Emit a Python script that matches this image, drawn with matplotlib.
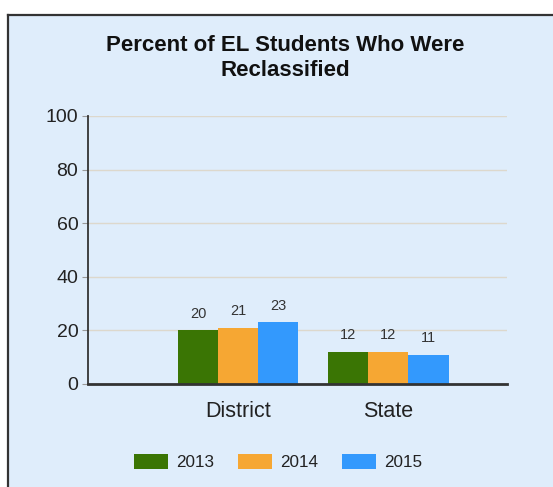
import matplotlib.pyplot as plt
from matplotlib.patches import Rectangle
from matplotlib.lines import Line2D
import numpy as np

plt.rcParams['font.family'] = ['Liberation Sans', 'DejaVu Sans']

categories = ["District", "State"]
years = ["2013", "2014", "2015"]
values_2013 = [20, 12]
values_2014 = [21, 12]
values_2015 = [23, 11]
colors = ["#3a7504", "#f6a733", "#3399fd"]

bg = "#dfedfb"
W, H = 553, 487
fig = plt.figure(figsize=(W / 100, H / 100), dpi=100)
fig.patch.set_facecolor("white")

# panel background with the dark borders on top and left
fig.patches.append(Rectangle((8 / W, 0), 1 - 8 / W, 1 - 15 / H, transform=fig.transFigure,
                             facecolor=bg, edgecolor="none", zorder=-5))
fig.lines.append(Line2D([8 / W, 1], [1 - 15 / H, 1 - 15 / H], transform=fig.transFigure,
                        color="#333333", lw=1.6, zorder=-4))
fig.lines.append(Line2D([8 / W, 8 / W], [0, 1 - 15 / H], transform=fig.transFigure,
                        color="#333333", lw=1.6, zorder=-4))

ax = fig.add_axes([88 / W, 1 - 384 / H, (507 - 88) / W, (384 - 116) / H])
ax.set_facecolor(bg)

x = np.arange(len(categories))
w = 0.267
series = [values_2013, values_2014, values_2015]
for i, (vals, year, c) in enumerate(zip(series, years, colors)):
    bars = ax.bar(x + (i - 1) * w, vals, width=w, color=c, label=year, zorder=3)
    for b, v in zip(bars, vals):
        ax.annotate(str(v), (b.get_x() + b.get_width() / 2, v), xytext=(0, 7),
                    textcoords="offset points", ha="center", va="bottom",
                    fontsize=10.5, color="#333333")

ax.set_xlim(-1.0, 1.79)
ax.set_ylim(0, 100)
ax.set_yticks([0, 20, 40, 60, 80, 100])
ax.yaxis.grid(True, color="#ddd8cc", lw=1, zorder=0)
ax.set_xticks(x)
ax.set_xticklabels(categories, fontsize=15.5, color="#222222")
ax.tick_params(axis="x", length=0, pad=12)
ax.tick_params(axis="y", labelsize=14, length=4, color="#999999", pad=3,
               labelcolor="#222222")
for s in ["top", "right"]:
    ax.spines[s].set_visible(False)
ax.spines["left"].set_color("#333333")
ax.spines["left"].set_linewidth(1.3)
ax.spines["bottom"].set_color("#333333")
ax.spines["bottom"].set_linewidth(2)
ax.spines["bottom"].set_zorder(4)

fig.text(285 / W, 1 - 58 / H, "Percent of EL Students Who Were\nReclassified",
         ha="center", va="center", fontsize=16, fontweight="bold",
         linespacing=1.2, color="#111111")

leg = fig.legend(loc="center", bbox_to_anchor=(278 / W, 1 - 462 / H), ncol=3,
                 frameon=False, fontsize=12.3, handlelength=2.0, handleheight=0.95,
                 columnspacing=1.4, handletextpad=0.47)
for t in leg.get_texts():
    t.set_color("#222222")

fig.savefig("out.png", dpi=100, facecolor=fig.get_facecolor())
